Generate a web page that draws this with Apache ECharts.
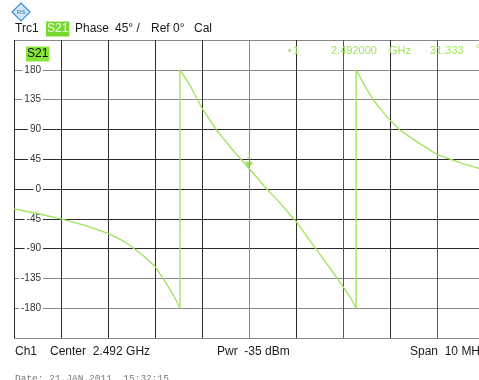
<!DOCTYPE html>
<html>
<head>
<meta charset="utf-8">
<script src="https://cdn.jsdelivr.net/npm/echarts@6/dist/echarts.min.js"></script>
<style>
html,body{margin:0;padding:0;background:#fff;}
#c{width:479px;height:380px;}
</style>
</head>
<body>
<div id="c"></div>
<script>
// Frequency (MHz) and phase (deg) of trace S21
var freqMHz = [2487.00, 2487.49, 2488.00, 2488.51, 2489.00, 2489.26, 2489.47, 2489.57, 2489.79, 2490.00, 2490.21, 2490.39, 2490.53,
               2490.53, 2490.75, 2491.00, 2491.31, 2491.64, 2492.00, 2492.34, 2492.62, 2493.00, 2493.44, 2493.72, 2494.00, 2494.15, 2494.28,
               2494.28, 2494.47, 2494.65, 2494.83, 2495.00, 2495.21, 2495.60, 2496.00, 2496.28, 2496.60, 2496.89, 2497.00];
var phaseDeg = [-30, -37, -45, -55, -67, -76, -85, -91, -103, -117, -139, -160, -180,
                180, 156, 122, 89, 60, 31.333, 3, -18, -49, -92, -119, -147.5, -163, -180,
                180, 155, 134, 118, 104, 89, 70, 52, 45, 37, 31, 28];
var yTicks = [-225, -180, -135, -90, -45, 0, 45, 90, 135, 180, 225];
var markerFreqMHz = [2492.000];
var markerPhase = [31.333];
var headerTexts = ['Trc1', 'S21', 'Phase', '45\u00b0 /', 'Ref 0\u00b0', 'Cal'];
var footerTexts = ['Ch1', 'Center  2.492 GHz', 'Pwr  -35 dBm', 'Span  10 MHz'];
var dateText = 'Date: 21.JAN.2011  15:32:15';

var GREEN = '#9ee35a';
var chart = echarts.init(document.getElementById('c'), null, {renderer: 'canvas'});
var pts = freqMHz.map(function (f, i) { return [f, phaseDeg[i]]; });
var mk = markerFreqMHz.map(function (f, i) { return [f, markerPhase[i]]; });

var hLineColors = ['#888', '#888', '#888', '#2a2a2a', '#2a2a2a', '#2a2a2a', '#2a2a2a', '#2a2a2a', '#888', '#888', '#888'];
var vLineColors = ['#2a2a2a', '#2a2a2a', '#2a2a2a', '#2a2a2a', '#2a2a2a', '#888', '#2a2a2a', '#555', '#2a2a2a', '#555', '#2a2a2a'];

var font = '"Liberation Sans", Arial, sans-serif';
function txt(x, y, s, opt) {
  opt = opt || {};
  return {type: 'text', x: x, y: y, z: 100, silent: true,
    style: {text: s, fill: opt.fill || '#1a1a1a', font: (opt.size || 12) + 'px ' + (opt.family || font),
      textVerticalAlign: 'middle', textAlign: opt.align || 'left',
      backgroundColor: opt.bg, padding: opt.pad}};
}

var mf = markerFreqMHz[0] / 1000;
var graphics = [
  // R&S logo
  {type: 'polygon', z: 100, shape: {points: [[21, 3], [30, 12], [21, 21], [12, 12]]},
   style: {fill: '#cfe6f7', stroke: '#3b8ed6', lineWidth: 1.2}},
  txt(21, 12, 'RS', {size: 6, fill: '#2a6fb5', align: 'center'}),
  // header
  txt(15, 29, headerTexts[0], {size: 12}),
  txt(46, 29, headerTexts[1], {size: 12, fill: '#f4ffe8', bg: '#77d932', pad: [2, 1, 1, 1]}),
  txt(75, 29, headerTexts[2], {size: 12}),
  txt(115, 29, headerTexts[3], {size: 12}),
  txt(151, 29, headerTexts[4], {size: 12}),
  txt(194, 29, headerTexts[5], {size: 12}),
  // trace label inside diagram
  txt(26, 54, headerTexts[1], {size: 12, fill: '#111', bg: '#86e43a', pad: [2, 1, 1, 1]}),
  // marker info
  txt(288, 51, '\u2022', {size: 10, fill: GREEN}),
  txt(293, 51, '1', {size: 11, fill: GREEN}),
  txt(331, 51, mf.toFixed(6), {size: 11, fill: GREEN}),
  txt(389, 51, 'GHz', {size: 11, fill: GREEN}),
  txt(430, 51, markerPhase[0].toFixed(3), {size: 11, fill: GREEN}),
  txt(476, 49, '\u00b0', {size: 11, fill: GREEN}),
  // footer
  txt(15, 352, footerTexts[0], {size: 12}),
  txt(50, 352, footerTexts[1], {size: 12}),
  txt(217, 352, footerTexts[2], {size: 12}),
  txt(410, 352, footerTexts[3], {size: 12}),
  txt(15, 378, dateText, {size: 9.5, fill: '#777', family: '"Liberation Mono", monospace'})
];

chart.setOption({
  animation: false,
  backgroundColor: '#fff',
  grid: {left: 14, top: 40, width: 470, height: 298, show: false, containLabel: false, outerBoundsMode: 'none'},
  xAxis: {
    type: 'value', min: 2487, max: 2497, interval: 1,
    axisLine: {show: false}, axisTick: {show: false}, axisLabel: {show: false},
    splitLine: {show: true, showMinLine: true, showMaxLine: true, lineStyle: {color: vLineColors, width: 1}}
  },
  yAxis: {
    type: 'value', min: -225, max: 225, interval: 45,
    axisLine: {show: false}, axisTick: {show: false},
    splitLine: {show: true, showMinLine: true, showMaxLine: true, lineStyle: {color: hLineColors, width: 1}},
    axisLabel: {
      inside: true, align: 'right', margin: 29, fontSize: 10, color: '#333', fontFamily: 'Liberation Sans',
      backgroundColor: '#fff', padding: [0, 2, 0, 2],
      formatter: function (v) { return (Math.abs(v) > 180) ? '' : String(v); }
    }
  },
  series: [
    {type: 'line', data: pts, symbol: 'none', z: 5,
     lineStyle: {color: GREEN, width: 1.3}},
    {type: 'scatter', data: mk, symbol: 'triangle', symbolRotate: 180, symbolSize: [8, 7], symbolOffset: [0, -3], z: 6,
     itemStyle: {color: '#8ad43f'},
     label: {show: true, position: 'top', distance: 2, formatter: '1', fontSize: 9, color: GREEN}}
  ],
  graphic: graphics
});
</script>
</body>
</html>
